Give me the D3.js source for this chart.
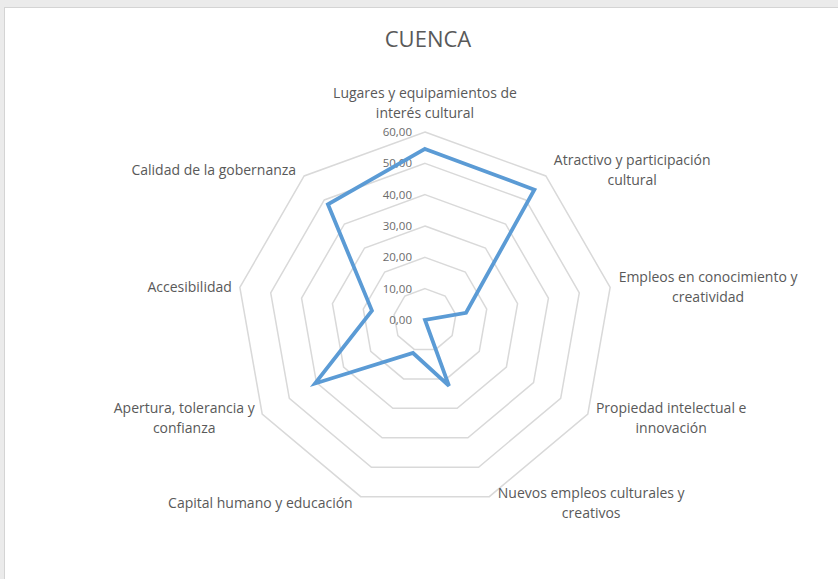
<html>
<head>
<script type="text/javascript" src="https://cdnjs.cloudflare.com/ajax/libs/d3/7.8.5/d3.min.js"></script>
<style type="text/css">
  body{
    margin:0;
    background:#ebebeb;
    overflow:hidden;
  }
  text{
    font-family:"Open Sans","Noto Sans",sans-serif;
  }
  .axisLabel{
    font-size:14px;
    fill:#595959;
  }
  .tickLabel{
    font-size:11.5px;
    fill:#6b6b6b;
  }
</style>
</head>
<body>
<div id="radar"></div>
<script type="text/javascript">
// axis categories, one entry per spoke, split into the two lines Excel shows
let categories=[
  ["Lugares y equipamientos de","interés cultural"],
  ["Atractivo y participación","cultural"],
  ["Empleos en conocimiento y","creatividad"],
  ["Propiedad intelectual e","innovación"],
  ["Nuevos empleos culturales y","creativos"],
  ["Capital humano y educación"],
  ["Apertura, tolerancia y","confianza"],
  ["Accesibilidad"],
  ["Calidad de la gobernanza"]
];
let values=[54.6,54.3,13.3,0,22.4,11.2,40.5,17.2,48.2];
let ticks=[0,10,20,30,40,50,60];
let tickLabels=["0,00","10,00","20,00","30,00","40,00","50,00","60,00"];
let title="CUENCA";

let containerDim={width:838,height:579};
let center={x:425,y:320};
let outerR=188;

let svg=d3.select('#radar')
.append('svg')
.attr('width',containerDim.width)
.attr('height',containerDim.height);

// chart frame (white chart area over the grey sheet)
svg.append('rect')
.attr('x',4.5).attr('y',7.5)
.attr('width',containerDim.width)
.attr('height',containerDim.height)
.attr('fill','#ffffff')
.attr('stroke','#d4d4d4');

svg.append('text')
.attr('x',428)
.attr('y',47)
.attr('text-anchor','middle')
.style('font-size','22px')
.style('fill','#595959')
.text(title);

let r=d3.scaleLinear().domain([0,60]).range([0,outerR]);
let angle=d3.scaleLinear().domain([0,categories.length]).range([0,2*Math.PI]);

function pt(i,v){
  let a=angle(i);
  return [center.x+Math.sin(a)*r(v),center.y-Math.cos(a)*r(v)];
}

let g=svg.append('g');

// grid rings
g.selectAll('.ring')
.data(ticks.slice(1))
.enter()
.append('polygon')
.attr('class','ring')
.attr('points',function(t){
  return categories.map((c,i)=>pt(i,t).join(',')).join(' ');
})
.attr('fill','none')
.attr('stroke','#d9d9d9')
.attr('stroke-width',1.5);

// tick labels
g.selectAll('.tickLabel')
.data(ticks)
.enter()
.append('text')
.attr('class','tickLabel')
.attr('x',center.x-13)
.attr('y',function(t){return center.y-r(t)})
.attr('dy','0.35em')
.attr('text-anchor','end')
.text((t,i)=>tickLabels[i]);

// series
let line=d3.lineRadial()
.angle((d,i)=>angle(i))
.radius(d=>r(d))
.curve(d3.curveLinearClosed);

g.append('path')
.attr('transform','translate('+center.x+','+center.y+')')
.attr('d',line(values))
.attr('fill','none')
.attr('stroke','#5b9bd5')
.attr('stroke-width',3.8)
.attr('stroke-linejoin','miter');

// axis labels
let lineH=20;
categories.forEach((lines,i)=>{
  let a=angle(i);
  let s=Math.sin(a),c=Math.cos(a);
  let p=pt(i,60);
  let anchor='middle',x=p[0],yMid=p[1];
  if(s>0.1){anchor='start';x=p[0]+8;}
  else if(s<-0.1){anchor='end';x=p[0]-8;}
  let n=lines.length;
  if(c>0.9){
    yMid=p[1]-9-(n*lineH)/2;
  }else if(c>0.4){
    yMid=p[1]-6;
  }else if(c<-0.8){
    yMid=p[1]+6;
  }else if(c<-0.4){
    yMid=p[1]+4;
  }
  let t=svg.append('text')
  .attr('class','axisLabel')
  .attr('text-anchor',anchor);
  lines.forEach((l,k)=>{
    t.append('tspan')
    .attr('x',x)
    .attr('y',yMid+(k-(n-1)/2)*lineH)
    .attr('dy','0.35em')
    .text(l);
  });
  // two-line labels are centred on their own block
  if(n>1 && anchor!=='middle'){
    let bb=t.node().getBBox();
    let cx=bb.x+bb.width/2;
    t.attr('text-anchor','middle').selectAll('tspan').attr('x',cx);
  }
});
</script>
</body>
</html>
